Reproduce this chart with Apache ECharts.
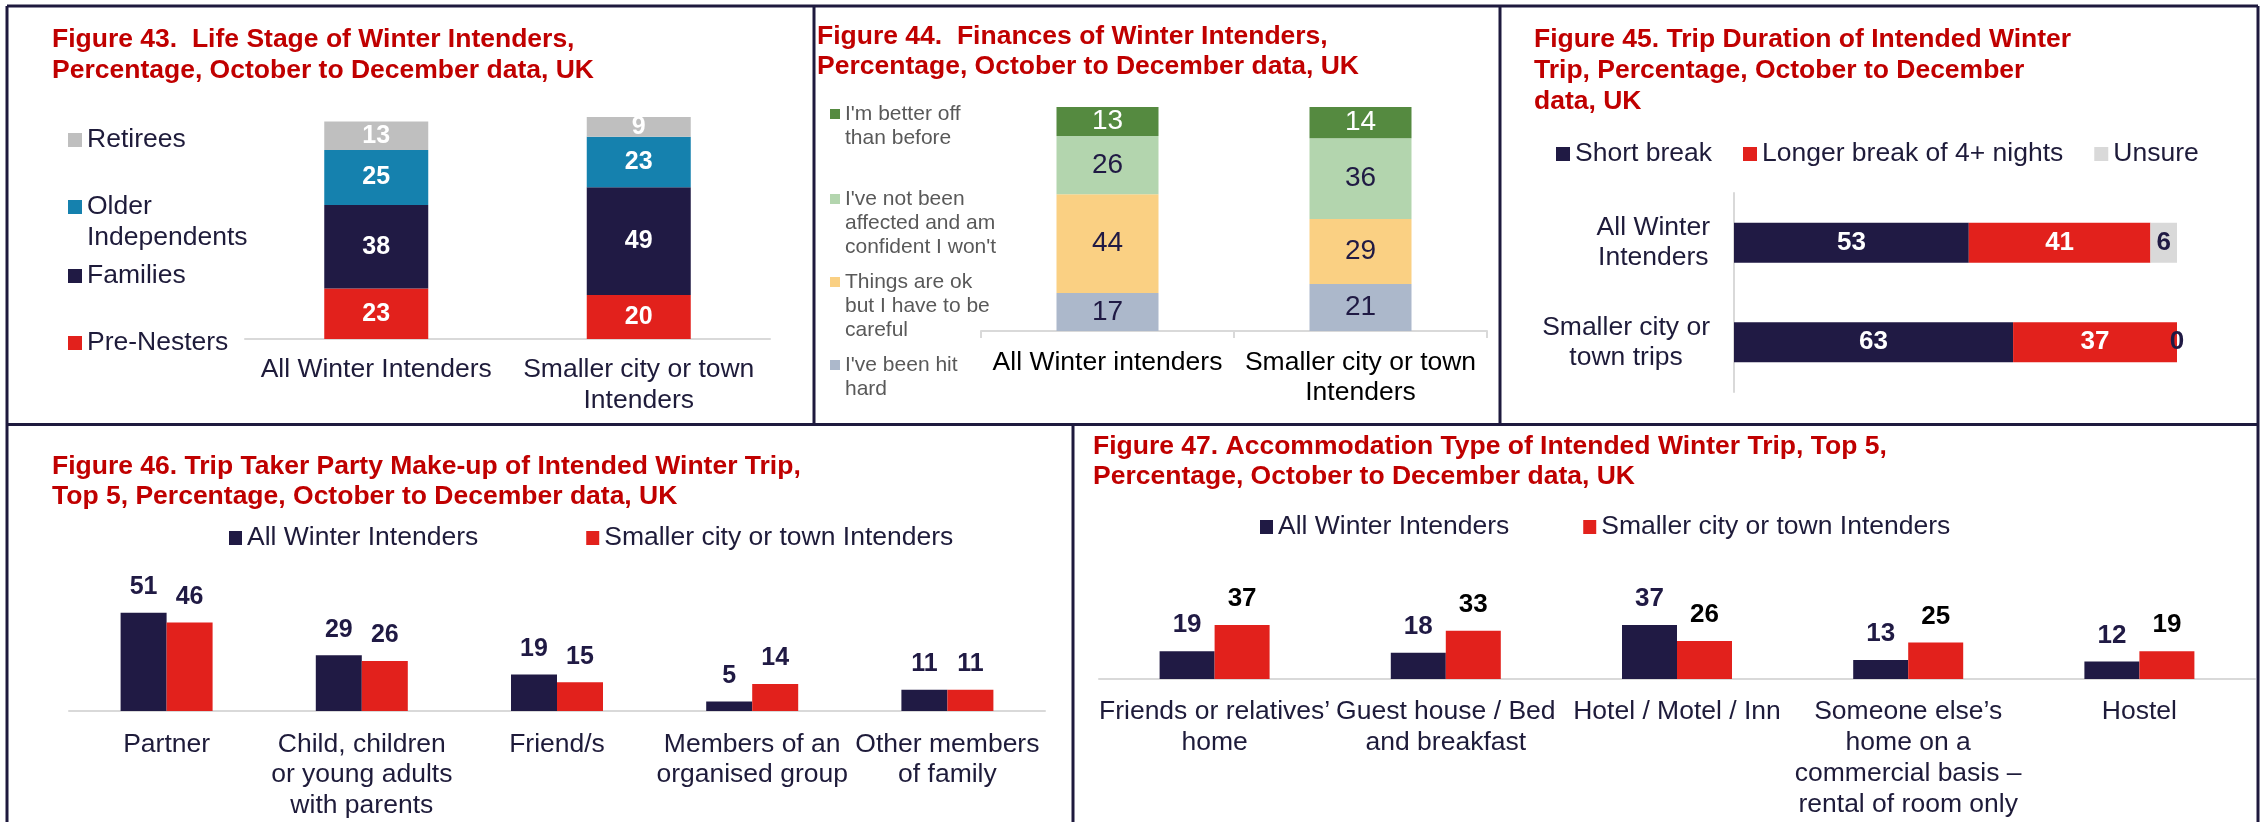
<!DOCTYPE html>
<html>
<head>
<meta charset="utf-8">
<script src="https://cdn.jsdelivr.net/npm/echarts@6/dist/echarts.min.js"></script>
<style>
  html, body { margin: 0; padding: 0; background: #ffffff; }
  #chart { width: 2260px; height: 822px; }
</style>
</head>
<body>
<div id="chart"></div>
<script>
// Figure 43 – life stage
const lifeCategories = ['All Winter Intenders', 'Smaller city or town\nIntenders'];
const lifeStageNames = ['Pre-Nesters', 'Families', 'Older\nIndependents', 'Retirees'];
const preNesters = [23, 20];
const families = [38, 49];
const olderIndependents = [25, 23];
const retirees = [13, 9];

// Figure 44 – finances
const financeCategories = ['All Winter intenders', 'Smaller city or town\nIntenders'];
const financeNames = ["I've been hit\nhard", 'Things are ok\nbut I have to be\ncareful', "I've not been\naffected and am\nconfident I won't", "I'm better off\nthan before"];
const hitHard = [17, 21];
const okCareful = [44, 29];
const notAffected = [26, 36];
const betterOff = [13, 14];

// Figure 45 – trip duration
const durationCategories = ['All Winter\nIntenders', 'Smaller city or\ntown trips'];
const durationNames = ['Short break', 'Longer break of 4+ nights', 'Unsure'];
const shortBreak = [53, 63];
const longerBreak = [41, 37];
const unsure = [6, 0];

// Figure 46 – party make-up
const partyCategories = ['Partner', 'Child, children\nor young adults\nwith parents', 'Friend/s', 'Members of an\norganised group', 'Other members\nof family'];
const groupNames = ['All Winter Intenders', 'Smaller city or town Intenders'];
const partyAll = [51, 29, 19, 5, 11];
const partySmaller = [46, 26, 15, 14, 11];

// Figure 47 – accommodation type
const accomCategories = ['Friends or relatives’\nhome', 'Guest house / Bed\nand breakfast', 'Hotel / Motel / Inn', 'Someone else’s\nhome on a\ncommercial basis –\nrental of room only', 'Hostel'];
const accomAll = [19, 18, 37, 13, 12];
const accomSmaller = [37, 33, 26, 25, 19];

const FONT = '"Liberation Sans", Arial, Helvetica, sans-serif';
const NAVY = '#201a44';
const RED = '#e2211c';
const TEXT = '#1e1b3a';
const TITLE_RED = '#c00000';
const FRAME = '#1e1a3e';
const AXIS_GREY = '#d9d9d9';

const chart = echarts.init(document.getElementById('chart'), null, { renderer: 'canvas' });

function title(text, left, top, lineHeight) {
  return {
    text, left, top, padding: 0,
    textStyle: { fontFamily: FONT, fontSize: 26.5, fontWeight: 'bold', color: TITLE_RED, lineHeight }
  };
}

// One legend entry per block; leading blank lines keep the icon beside the first text line
function blockLegend(name, left, centerY, lineH, fontSize, color, iconSize) {
  const n = name.split('\n').length;
  return {
    data: [name], orient: 'vertical', left, top: centerY - (2 * n - 1) * lineH / 2,
    padding: 0, icon: 'rect', itemWidth: iconSize, itemHeight: iconSize, selectedMode: false,
    formatter: v => '\n'.repeat(n - 1) + v,
    textStyle: { fontFamily: FONT, fontSize, lineHeight: lineH, color }
  };
}

function rowLegend(names, left, centerY, gap, iconW) {
  return {
    data: names, orient: 'horizontal', left, top: centerY - 15, padding: 0, itemGap: gap,
    icon: 'rect', itemWidth: iconW, itemHeight: 14, selectedMode: false,
    textStyle: { fontFamily: FONT, fontSize: 26.5, lineHeight: 30, color: TEXT }
  };
}

function label(color, size, weight, position, distance) {
  return { show: true, position, distance, color, fontSize: size, lineHeight: size, fontWeight: weight, fontFamily: FONT };
}

function catAxis(gridIndex, data, opts) {
  return Object.assign({
    type: 'category', gridIndex, data,
    axisLine: { show: true, lineStyle: { color: AXIS_GREY, width: 2 } },
    axisTick: { show: false },
    splitLine: { show: false },
    axisLabel: { interval: 0, fontFamily: FONT, fontSize: 26.5, color: TEXT, lineHeight: 31, margin: 16 }
  }, opts || {});
}

function valAxis(gridIndex, max) {
  return { type: 'value', gridIndex, min: 0, max, show: false, splitLine: { show: false } };
}

const grids = [
  { left: 245, top: 117, width: 525, height: 222 },
  { left: 981, top: 107, width: 506, height: 224 },
  { left: 1734, top: 193, width: 443, height: 199 },
  { left: 69, top: 518.5, width: 976, height: 192.5 },
  { left: 1099, top: 533, width: 1156, height: 146 }
].map(g => Object.assign({ containLabel: false, outerBoundsMode: 'none' }, g));

const xAxes = [
  catAxis(0, lifeCategories, { axisLabel: { interval: 0, fontFamily: FONT, fontSize: 26.5, color: TEXT, lineHeight: 31, margin: 15.5 } }),
  catAxis(1, financeCategories, {
    axisTick: { show: true, length: 7, alignWithLabel: false, lineStyle: { color: AXIS_GREY, width: 2 } },
    axisLabel: { interval: 0, fontFamily: FONT, fontSize: 26.5, color: '#000000', lineHeight: 30, margin: 17 }
  }),
  valAxis(2, 100),
  catAxis(3, partyCategories, { axisLabel: { interval: 0, fontFamily: FONT, fontSize: 26.5, color: TEXT, lineHeight: 30.5, margin: 18 } }),
  catAxis(4, accomCategories, { axisLabel: { interval: 0, fontFamily: FONT, fontSize: 26.5, color: TEXT, lineHeight: 31, margin: 17.5 } })
];

const yAxes = [
  valAxis(0, 101),
  valAxis(1, 100),
  catAxis(2, durationCategories, {
    inverse: true,
    axisLabel: {
      interval: 0, align: 'right', margin: 24,
      formatter: v => v.split('\n').map(s => '{c|' + s + '}').join('\n'),
      rich: { c: { align: 'center', fontFamily: FONT, fontSize: 26.5, lineHeight: 30, color: TEXT } }
    }
  }),
  valAxis(3, 100),
  valAxis(4, 100)
];

const lifeColors = [RED, NAVY, '#1581ae', '#bfbfbf'];
const lifeData = [preNesters, families, olderIndependents, retirees];
const financeColors = ['#acb8cb', '#fad083', '#b3d5ae', '#558a40'];
const financeData = [hitHard, okCareful, notAffected, betterOff];
const durationColors = [NAVY, RED, AXIS_GREY];
const durationData = [shortBreak, longerBreak, unsure];

const series = [];

lifeStageNames.forEach((name, i) => series.push({
  type: 'bar', name, stack: 'life', xAxisIndex: 0, yAxisIndex: 0, data: lifeData[i],
  barWidth: 104, itemStyle: { color: lifeColors[i] },
  label: label('#ffffff', 25, 'bold', 'inside', 0)
}));

financeNames.forEach((name, i) => series.push({
  type: 'bar', name, stack: 'finance', xAxisIndex: 1, yAxisIndex: 1, data: financeData[i],
  barWidth: 102, itemStyle: { color: financeColors[i] },
  label: label(i === 3 ? '#ffffff' : NAVY, 28, 'normal', 'inside', 0)
}));

durationNames.forEach((name, i) => series.push({
  type: 'bar', name, stack: 'duration', xAxisIndex: 2, yAxisIndex: 2, data: durationData[i],
  barWidth: 40, itemStyle: { color: durationColors[i] },
  label: label(i === 2 ? NAVY : '#ffffff', 26, 'bold', 'inside', 0)
}));

[partyAll, partySmaller].forEach((data, i) => series.push({
  type: 'bar', name: groupNames[i], xAxisIndex: 3, yAxisIndex: 3, data,
  barWidth: 46, barGap: '0%', itemStyle: { color: i === 0 ? NAVY : RED },
  label: label(NAVY, 25, 'bold', 'top', 13)
}));

[accomAll, accomSmaller].forEach((data, i) => series.push({
  type: 'bar', name: groupNames[i], xAxisIndex: 4, yAxisIndex: 4, data,
  barWidth: 55, barGap: '0%', itemStyle: { color: i === 0 ? NAVY : RED },
  label: label(i === 0 ? NAVY : '#000000', 26, 'bold', 'top', 13)
}));

const legends = [
  blockLegend(lifeStageNames[3], 68, 140, 31, 26.5, TEXT, 14),
  blockLegend(lifeStageNames[2], 68, 207, 31, 26.5, TEXT, 14),
  blockLegend(lifeStageNames[1], 68, 276, 31, 26.5, TEXT, 14),
  blockLegend(lifeStageNames[0], 68, 343, 31, 26.5, TEXT, 14),
  blockLegend(financeNames[3], 830, 114, 24, 21, '#595959', 10),
  blockLegend(financeNames[2], 830, 199, 24, 21, '#595959', 10),
  blockLegend(financeNames[1], 830, 282, 24, 21, '#595959', 10),
  blockLegend(financeNames[0], 830, 365, 24, 21, '#595959', 10),
  rowLegend(durationNames, 1556, 154, 31, 14),
  rowLegend(groupNames, 229, 538, 108, 13),
  rowLegend(groupNames, 1260, 527, 74, 13)
];

const titles = [
  title('Figure 43.  Life Stage of Winter Intenders,\nPercentage, October to December data, UK', 52, 24.5, 31),
  title('Figure 44.  Finances of Winter Intenders,\nPercentage, October to December data, UK', 817, 22, 30),
  title('Figure 45. Trip Duration of Intended Winter\nTrip, Percentage, October to December\ndata, UK', 1534, 24.5, 31),
  title('Figure 46. Trip Taker Party Make-up of Intended Winter Trip,\nTop 5, Percentage, October to December data, UK', 52, 452, 30),
  title('Figure 47. Accommodation Type of Intended Winter Trip, Top 5,\nPercentage, October to December data, UK', 1093, 432, 30)
];

// Panel frame lines
const frameLines = [
  [7, 6, 2258, 6],
  [7, 6, 7, 822],
  [2258, 6, 2258, 822],
  [7, 424.5, 2258, 424.5],
  [814, 6, 814, 424.5],
  [1500, 6, 1500, 424.5],
  [1073, 424.5, 1073, 822]
].map(([x1, y1, x2, y2]) => ({
  type: 'line', silent: true, z: 100,
  shape: { x1, y1, x2, y2 },
  style: { stroke: FRAME, lineWidth: 3 }
}));

chart.setOption({
  animation: false,
  backgroundColor: '#ffffff',
  textStyle: { fontFamily: FONT },
  title: titles,
  legend: legends,
  grid: grids,
  xAxis: xAxes,
  yAxis: yAxes,
  series,
  graphic: frameLines
});
</script>
</body>
</html>
